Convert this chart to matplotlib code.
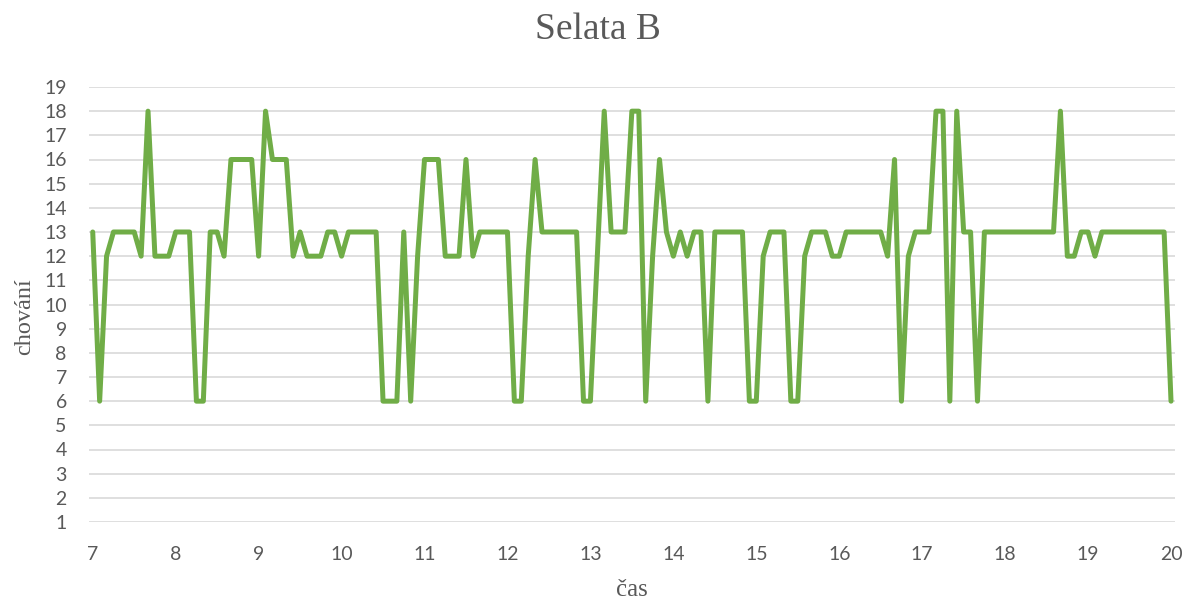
import numpy as np
import matplotlib.pyplot as plt

# behaviour score every 5 minutes, 7:00 - 20:00 (one row per hour)
chovani = [
    13, 6, 12, 13, 13, 13, 13, 12, 18, 12, 12, 12,    # 7
    13, 13, 13, 6, 6, 13, 13, 12, 16, 16, 16, 16,     # 8
    12, 18, 16, 16, 16, 12, 13, 12, 12, 12, 13, 13,   # 9
    12, 13, 13, 13, 13, 13, 6, 6, 6, 13, 6, 12,       # 10
    16, 16, 16, 12, 12, 12, 16, 12, 13, 13, 13, 13,   # 11
    13, 6, 6, 12, 16, 13, 13, 13, 13, 13, 13, 6,      # 12
    6, 12, 18, 13, 13, 13, 18, 18, 6, 12, 16, 13,     # 13
    12, 13, 12, 13, 13, 6, 13, 13, 13, 13, 13, 6,     # 14
    6, 12, 13, 13, 13, 6, 6, 12, 13, 13, 13, 12,      # 15
    12, 13, 13, 13, 13, 13, 13, 12, 16, 6, 12, 13,    # 16
    13, 13, 18, 18, 6, 18, 13, 13, 6, 13, 13, 13,     # 17
    13, 13, 13, 13, 13, 13, 13, 13, 18, 12, 12, 13,   # 18
    13, 12, 13, 13, 13, 13, 13, 13, 13, 13, 13, 13,   # 19
    6,                                                # 20
]
cas = 7 + np.arange(len(chovani)) * 5 / 60

x_ticks = list(range(7, 21))
y_ticks = list(range(1, 20))

fig = plt.figure(figsize=(11.89, 6.06), dpi=100)
ax = fig.add_axes([89 / 1189, 1 - 522 / 606, (1175 - 89) / 1189, (522 - 87) / 606])

ax.plot(cas, chovani, color='#70AD47', linewidth=3.6, solid_joinstyle='round',
        solid_capstyle='round', zorder=3)

ax.set_xlim(6.955, 20.048)
ax.set_ylim(1, 19)
ax.set_xticks(x_ticks)
ax.set_yticks(y_ticks)
ax.grid(axis='y', color='#D9D9D9', linewidth=1.2)
ax.set_axisbelow(True)
for s in ax.spines.values():
    s.set_visible(False)
ax.tick_params(length=0, labelsize=14, labelcolor='#595959')
ax.tick_params(axis='x', pad=17)
ax.tick_params(axis='y', pad=16)
for lab in ax.get_xticklabels() + ax.get_yticklabels():
    lab.set_family('Lato')

fig.text(0.503, 1 - 30 / 606, 'Selata B', family='Liberation Serif', fontsize=27,
         color='#595959', ha='center', va='center')
ax.set_xlabel('čas', family='Liberation Serif', fontsize=18, color='#595959')
ax.set_ylabel('chování', family='Liberation Serif', fontsize=17.5, color='#595959')
ax.xaxis.set_label_coords((632 - 89) / 1086, (522 - 590) / 435)
ax.yaxis.set_label_coords((25 - 89) / 1086, (522 - 317) / 435)
ax.xaxis.label.set_va('center')
ax.yaxis.label.set_va('center')

fig.savefig('out.png', dpi=100)
